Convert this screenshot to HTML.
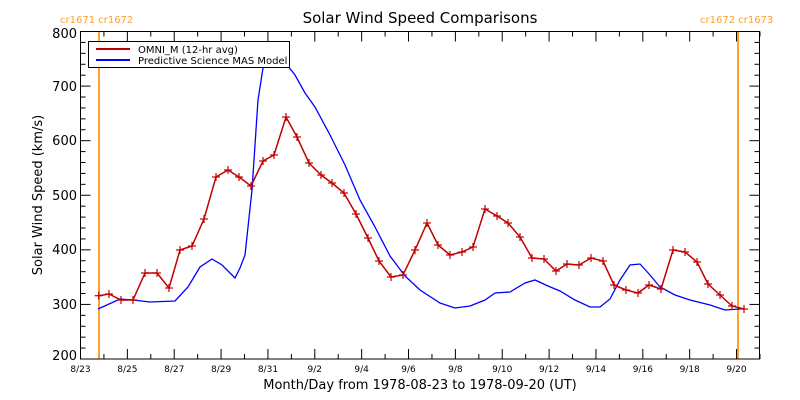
<!DOCTYPE html>
<html><head><style>body{margin:0;background:#fff}svg{display:block}text{font-family:"DejaVu Sans","Liberation Sans",sans-serif}</style></head><body>
<svg width="800" height="400" xmlns="http://www.w3.org/2000/svg">
<rect width="800" height="400" fill="#fff"/>
<text x="420" y="23" font-size="15" text-anchor="middle" fill="#000">Solar Wind Speed Comparisons</text>
<text x="60" y="23" font-size="10" fill="#ffa030">cr1671 cr1672</text>
<text x="700" y="23" font-size="10" fill="#ffa030">cr1672 cr1673</text>
<line x1="99" y1="31" x2="99" y2="359" stroke="#ffa030" stroke-width="2"/>
<line x1="738" y1="31" x2="738" y2="359" stroke="#ffa030" stroke-width="2"/>
<g id="ticks" stroke="#000" stroke-width="1"></g>
<rect x="80.5" y="31.5" width="679" height="327.5" fill="none" stroke="#000"/>
<g font-size="13" text-anchor="end" fill="#000">
<text x="77" y="38">800</text><text x="77" y="91">700</text><text x="77" y="145">600</text><text x="77" y="200">500</text><text x="77" y="254">400</text><text x="77" y="309">300</text><text x="77" y="360">200</text>
</g>
<g font-size="9" text-anchor="middle" fill="#000" id="xl"></g>
<text x="420" y="389" font-size="13" text-anchor="middle">Month/Day from 1978-08-23 to 1978-09-20 (UT)</text>
<text transform="translate(42,195) rotate(-90)" font-size="13" text-anchor="middle">Solar Wind Speed (km/s)</text>
<polyline fill="none" stroke="#0000ff" stroke-width="1.3" points="98,309 120,299 133,300 150,302 175,301 188,287 200,267 212,259 222,265 235,278 240,268 245,255 252,190 258,100 263,68 270,58 283,60 295,75 305,93 315,107 330,135 345,165 360,200 375,227 390,256 405,276 420,290 440,303 455,308 470,306 485,300 495,293 510,292 525,283 535,280 548,286 560,291 575,300 590,307 600,307 610,299 620,280 630,265 640,264 650,275 660,287 675,295 690,300 710,305 725,310 740,309"/>
<polyline id="red" fill="none" stroke="#c00000" stroke-width="1.5" points=""/>
<g id="plus" stroke="#c00000" stroke-width="1.2"></g>
<rect x="88.5" y="41.5" width="201" height="26" fill="#fff" stroke="#000"/>
<line x1="96" y1="49" x2="130" y2="49" stroke="#c00000" stroke-width="2"/>
<line x1="96" y1="60" x2="130" y2="60" stroke="#0000ff" stroke-width="2"/>
<text x="138" y="53" font-size="10">OMNI_M (12-hr avg)</text>
<text x="138" y="64" font-size="10">Predictive Science MAS Model</text>
</svg>
<script>
var pts=[[98.7,295.7],[109,294],[121,300],[133,300],[145,273],[157,273],[169,288],[180,250],[192,246],[204,219],[216,177],[228,170],[239,177],[251,186],[263,161],[274,155],[286,117],[297,137],[309,163],[321,175],[332,183],[344,193],[356,214],[368,238],[379,261],[391,277],[403,275],[415,250],[427,223],[438,245],[450,255],[462,252],[473,247],[485,209],[497,216],[508,223],[520,237],[532,258],[544,259],[556,271],[567,264],[579,265],[591,258],[603,261],[614,285],[626,290],[638,293],[649,285],[661,289],[673,250],[685,252],[697,262],[708,284],[720,295],[732,306],[744,309]];
document.getElementById('red').setAttribute('points',pts.map(p=>p.join(',')).join(' '));
var g=document.getElementById('plus'),s='';
pts.forEach(p=>{s+='<line x1="'+(p[0]-4)+'" y1="'+p[1]+'" x2="'+(p[0]+4)+'" y2="'+p[1]+'"/><line x1="'+p[0]+'" y1="'+(p[1]-4)+'" x2="'+p[0]+'" y2="'+(p[1]+4)+'"/>';});
g.innerHTML=s;
var t='',lab='';
var names=['8/23','8/25','8/27','8/29','8/31','9/2','9/4','9/6','9/8','9/10','9/12','9/14','9/16','9/18','9/20'];
for(var d=0;d<=29;d++){var x=80.5+d*23.43;var L=d%2==0?10:5;
t+='<line x1="'+x+'" y1="359" x2="'+x+'" y2="'+(359-L)+'"/><line x1="'+x+'" y1="31.5" x2="'+x+'" y2="'+(31.5+L)+'"/>';
if(d%2==0&&d/2<names.length)lab+='<text x="'+x+'" y="372">'+names[d/2]+'</text>';}
for(var v=200;v<=800;v+=20){var y=359-(v-200)*0.5458;var L=v%100==0?10:5;
t+='<line x1="80.5" y1="'+y+'" x2="'+(80.5+L)+'" y2="'+y+'"/><line x1="759.5" y1="'+y+'" x2="'+(759.5-L)+'" y2="'+y+'"/>';}
document.getElementById('ticks').innerHTML=t;
document.getElementById('xl').innerHTML=lab;
</script>
</body></html>
